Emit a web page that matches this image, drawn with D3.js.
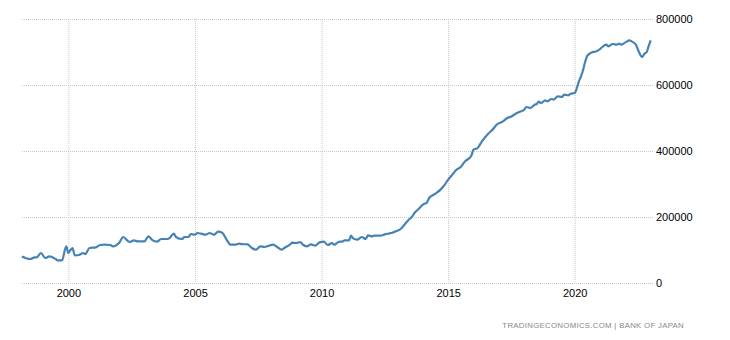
<!DOCTYPE html>
<html>
<head>
<meta charset="utf-8">
<script src="https://cdn.jsdelivr.net/npm/d3@7"></script>
<style>
  body { margin: 0; background: #fff; }
  svg { display: block; }
</style>
</head>
<body>
<script>
// monthly readings, Bank of Japan series
const months = [
  "1998-03","1998-07","1998-09","1998-10","1998-12","1999-02","1999-04","1999-07","1999-08","1999-10",
  "1999-12","2000-01","2000-02","2000-03","2000-04","2000-06","2000-08","2000-09","2000-11","2001-02",
  "2001-04","2001-06","2001-09","2001-10","2002-01","2002-03","2002-06","2002-08","2002-10","2003-01",
  "2003-03","2003-05","2003-07","2003-09","2003-12","2004-01","2004-03","2004-04","2004-07","2004-08",
  "2004-10","2004-11","2005-01","2005-02","2005-04","2005-06","2005-08","2005-10","2005-12","2006-02",
  "2006-04","2006-06","2006-08","2006-10","2006-11","2007-02","2007-04","2007-06","2007-08","2007-10",
  "2007-12","2008-02","2008-04","2008-06","2008-08","2008-10","2008-11","2009-01","2009-03","2009-04",
  "2009-06","2009-08","2009-10","2009-12","2010-02","2010-04","2010-06","2010-07","2010-09","2010-11",
  "2010-12","2011-02","2011-03","2011-04","2011-06","2011-08","2011-10","2011-11","2012-01","2012-02",
  "2012-05","2012-07","2012-10","2012-12","2013-02","2013-03","2013-05","2013-06","2013-08","2013-09",
  "2013-11","2014-01","2014-03","2014-04","2014-07","2014-09","2014-11","2015-01","2015-03","2015-05",
  "2015-07","2015-09","2015-12","2016-01","2016-03","2016-05","2016-08","2016-10","2016-12","2017-03",
  "2017-05","2017-07","2017-09","2017-11","2018-01","2018-02","2018-04","2018-06","2018-07","2018-08",
  "2018-09","2018-11","2018-12","2019-02","2019-03","2019-05","2019-07","2019-08","2019-10","2019-11",
  "2020-01","2020-02","2020-03","2020-04","2020-05","2020-06","2020-07","2020-09","2020-11","2021-01",
  "2021-02","2021-04","2021-05","2021-07","2021-09","2021-10","2021-11","2022-01","2022-03","2022-04",
  "2022-06","2022-07","2022-09","2022-10","2022-11","2022-12","2023-01"
];
const values = [
  80600,72700,77600,77600,90900,75800,80600,72700,68500,68500,
  111000,90900,100000,106000,84000,84800,90900,87900,106000,107900,
  115200,116000,115200,111000,121200,139400,124200,129100,126100,126100,
  141200,129100,125100,133300,133300,136400,149400,139400,133300,139400,
  139400,148500,146400,151500,149400,146400,151500,146400,155500,151500,
  131200,116000,116000,119100,118000,117000,106000,100900,111000,109100,
  113000,116000,109100,100900,109100,116000,122100,121200,124200,117000,
  111000,117000,113000,123000,125100,115200,121200,116000,124200,126100,
  129100,129100,143300,135100,131200,139400,133300,144200,141200,143300,
  143300,147300,151500,156400,161500,166700,181800,189700,201800,212100,
  224200,237300,244200,257600,270600,280600,294800,313000,328200,343300,
  351500,368500,385800,403900,409100,429100,452400,464500,479700,489700,
  500000,504800,513000,519100,525100,533300,530300,540300,542400,549400,
  545500,553300,550300,557600,555500,565500,563600,570600,568500,573600,
  575800,590900,610900,626000,646400,671500,688800,698800,701800,709100,
  715200,722100,717000,724200,722100,725200,722100,729100,735200,732100,
  722100,707000,684800,694800,698800,717000,735200
];
const yTicks = [0, 200000, 400000, 600000, 800000];
const xTickYears = [2000, 2005, 2010, 2015, 2020];
const sourceText = "TRADINGECONOMICS.COM | BANK OF JAPAN";

const parseMonth = d3.timeParse("%Y-%m");
const data = months.map((m, i) => ({ date: parseMonth(m), value: values[i] }));

const width = 730, height = 340;
const plotLeft = 22, plotRight = 653, plotTop = 19, plotBottom = 283;

const svg = d3.select("body").append("svg")
  .attr("width", width)
  .attr("height", height);

const x = d3.scaleTime()
  .domain([new Date(1998, 2, 3), new Date(2023, 1, 3)])
  .range([plotLeft, plotRight]);

const y = d3.scaleLinear()
  .domain([0, 800000])
  .range([plotBottom, plotTop]);

// horizontal grid + labels on the right
const yAxis = d3.axisRight(y)
  .tickValues(yTicks)
  .tickSize(plotRight - plotLeft)
  .tickPadding(3)
  .tickFormat(d3.format("d"));

svg.append("g")
  .attr("transform", "translate(" + plotLeft + ",0)")
  .call(yAxis)
  .call(g => g.select(".domain").remove())
  .call(g => g.selectAll(".tick line")
    .attr("stroke", "#c8c8c8")
    .attr("stroke-dasharray", "1,1"))
  .call(g => g.selectAll(".tick text")
    .attr("fill", "#000")
    .style("font-family", "'Liberation Sans', Arial, sans-serif")
    .style("font-size", "11px"));

// vertical grid + year labels
const xAxis = d3.axisBottom(x)
  .tickValues(xTickYears.map(yr => new Date(yr, 0, 1)))
  .tickSize(plotBottom - plotTop)
  .tickPadding(6)
  .tickFormat(d3.timeFormat("%Y"));

svg.append("g")
  .attr("transform", "translate(0," + plotTop + ")")
  .call(xAxis)
  .call(g => g.select(".domain").remove())
  .call(g => g.selectAll(".tick line")
    .attr("stroke", "#c8c8c8")
    .attr("stroke-dasharray", "1,1"))
  .call(g => g.selectAll(".tick text")
    .attr("fill", "#000")
    .style("font-family", "'Liberation Sans', Arial, sans-serif")
    .style("font-size", "11px"));

const line = d3.line()
  .x(d => x(d.date))
  .y(d => y(d.value))
  .curve(d3.curveMonotoneX);

svg.append("path")
  .datum(data)
  .attr("fill", "none")
  .attr("stroke", "#4682b4")
  .attr("stroke-width", 2.2)
  .attr("stroke-linejoin", "round")
  .attr("d", line);

svg.append("text")
  .attr("x", 684)
  .attr("y", 328)
  .attr("text-anchor", "end")
  .attr("fill", "#888")
  .style("font-family", "'Liberation Sans', Arial, sans-serif")
  .style("font-size", "7.8px")
  .style("letter-spacing", "0.3px")
  .text(sourceText);
</script>
</body>
</html>
